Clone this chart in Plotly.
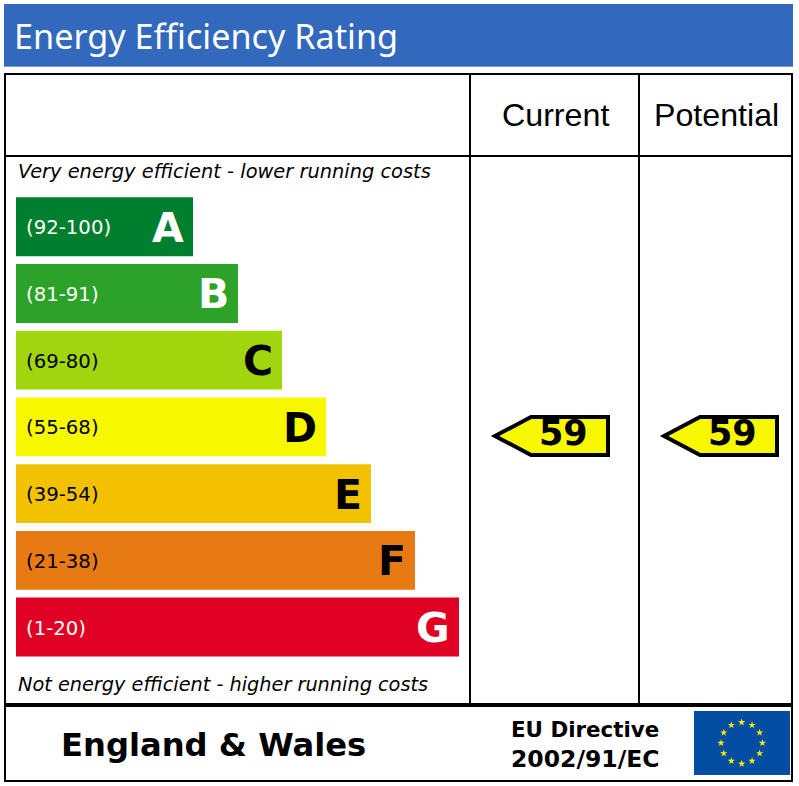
#!/usr/bin/python
import numpy as np
import plotly.graph_objects as go

bands = ['A', 'B', 'C', 'D', 'E', 'F', 'G']
ranges = ['(92-100)', '(81-91)', '(69-80)', '(55-68)', '(39-54)', '(21-38)', '(1-20)']
bar_lengths = [177, 222, 266, 310, 355, 399, 443]
bar_colors = ['#007F2E', '#2DA229', '#A1D50D', '#F7F700', '#F2C200', '#E87A14', '#E00024']
letter_colors = ['white', 'white', 'black', 'black', 'black', 'black', 'white']
range_colors = ['white', 'white', 'black', 'black', 'black', 'black', 'white']

columns = ['Current', 'Potential']
ratings = [59, 59]

W, H = 799, 786
SANS = 'DejaVu Sans'


def line(x0, y0, x1, y1, width=2):
    return dict(type='line', xref='x2', yref='y2', x0=x0, y0=y0, x1=x1, y1=y1,
                line=dict(color='black', width=width))


def box(x0, y0, x1, y1, color):
    return dict(type='rect', xref='x2', yref='y2', x0=x0, y0=y0, x1=x1, y1=y1,
                fillcolor=color, line_width=0, layer='below')


def label(x, y, text, size, color='black', anchor='left', family=SANS):
    return dict(xref='x2', yref='y2', x=x, y=y, text=text, showarrow=False, xanchor=anchor,
                yanchor='middle', font=dict(family=family, size=size, color=color))


fig = go.Figure()

# rating bars, own axes so the lengths go through the scale
fig.add_trace(go.Bar(y=bands, x=bar_lengths, orientation='h', marker=dict(color=bar_colors, line_width=0),
                     hoverinfo='skip', showlegend=False))

# stars of the flag
angles = np.arange(12) * np.pi / 6
fig.add_trace(go.Scatter(x=741.7 + 20.7 * np.cos(angles), y=743 + 20.7 * np.sin(angles), xaxis='x2', yaxis='y2',
                         mode='markers', marker=dict(symbol='star', size=5.5, color='#FFED00', line_width=0),
                         hoverinfo='skip', showlegend=False))

shapes = [
    box(4, 4, 793, 66, '#3269BC'),
    box(4, 66, 793, 67, '#7C9FD4'),
    box(694, 711, 790, 775, '#034EA2'),
    dict(type='rect', xref='x2', yref='y2', x0=5, y0=74, x1=792, y1=781, line=dict(color='black', width=2)),
    line(5, 156, 792, 156),
    line(470, 74, 470, 704),
    line(639, 74, 639, 704),
    line(5, 705, 792, 705, width=4),
]

annotations = [
    label(12, 35, 'Energy Efficiency Rating', 34.2, 'white', family='Noto Sans'),
    label(16, 171, '<i>Very energy efficient - lower running costs</i>', 19.4),
    label(16, 684, '<i>Not energy efficient - higher running costs</i>', 19.3),
    label(59, 745, '<b>England &amp; Wales</b>', 32.2),
    label(509, 729, '<b>EU Directive</b>', 21.4),
    label(509, 759, '<b>2002/91/EC</b>', 23.5),
]

# column heads and rating arrows
head_x = [555, 716]
tip_x = [495, 664]
for name, value, cx, tx in zip(columns, ratings, head_x, tip_x):
    annotations.append(label(cx, 115, name, 32.2, anchor='center', family='Liberation Sans'))
    shapes.append(dict(type='path', xref='x2', yref='y2',
                       path=f'M{tx},436 L{tx+36},417 L{tx+113},417 L{tx+113},455 L{tx+36},455 Z',
                       fillcolor='#F7F700', line=dict(color='black', width=4)))
    annotations.append(label(tx + 68, 433, f'<b>{value}</b>', 35, anchor='center'))

# labels on the bars
for b, r, n, lc, rc in zip(bands, ranges, bar_lengths, letter_colors, range_colors):
    annotations.append(dict(xref='x', yref='y', x=0, y=b, xshift=8, yshift=-1, text=r, showarrow=False, xanchor='left',
                            font=dict(family=SANS, size=19.7, color=rc)))
    annotations.append(dict(xref='x', yref='y', x=n, y=b, xshift=-7, yshift=-1, text=f'<b>{b}</b>', showarrow=False,
                            xanchor='right', font=dict(family=SANS, size=41, color=lc)))

fig.update_layout(
    width=W, height=H, margin=dict(l=0, r=0, t=0, b=0),
    paper_bgcolor='white', plot_bgcolor='rgba(0,0,0,0)', bargap=0.118,
    shapes=shapes, annotations=annotations,
    xaxis=dict(domain=[16 / W, 459 / W], range=[0, 443], visible=False, fixedrange=True),
    yaxis=dict(domain=[1 - 660.4 / H, 1 - 193.4 / H], type='category', categoryorder='array', categoryarray=bands[::-1],
               range=[-0.5, 6.5], visible=False, fixedrange=True, anchor='x'),
    xaxis2=dict(domain=[0, 1], range=[0, W], visible=False, fixedrange=True, anchor='y2'),
    yaxis2=dict(domain=[0, 1], range=[H, 0], visible=False, fixedrange=True, anchor='x2'),
)

fig.write_html('out.html', config={'displayModeBar': False},
               post_script="document.body.style.margin='0';")
